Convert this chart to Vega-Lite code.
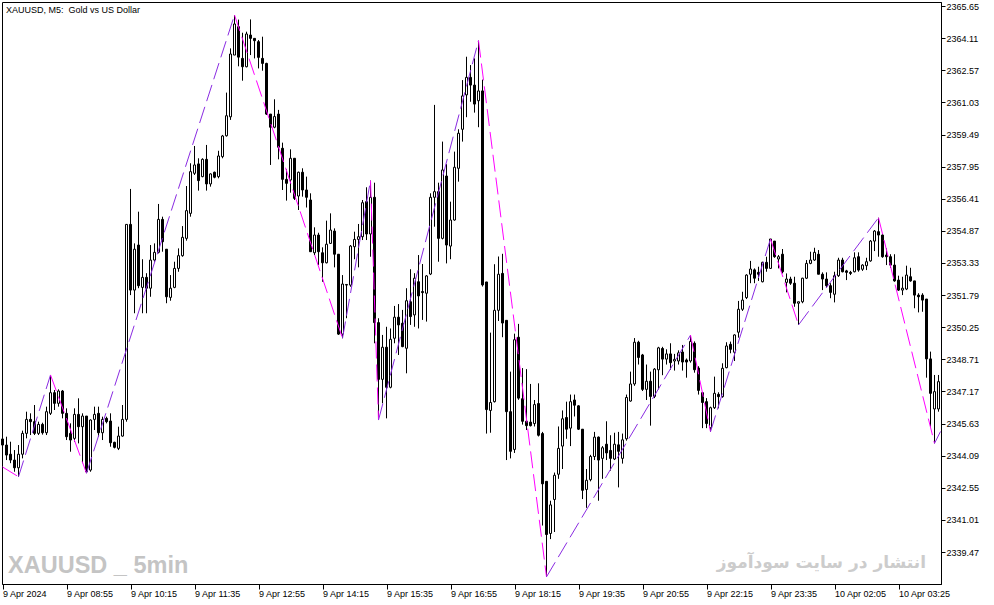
{
"$schema": "https://vega.github.io/schema/vega-lite/v6.json",
"width": 939, "height": 582,
"autosize": {"type": "none"},
"padding": {"left": 2, "top": 2, "right": 53, "bottom": 21},
"background": "white",
"config": {"view": {"stroke": "black", "strokeWidth": 1}},
"datasets": {
"candles": [
{"i":0,"o":2344.89,"h":2344.99,"l":2344.51,"c":2344.60},
{"i":1,"o":2344.60,"h":2345.00,"l":2343.88,"c":2344.12},
{"i":2,"o":2344.16,"h":2344.76,"l":2343.73,"c":2343.88},
{"i":3,"o":2343.88,"h":2344.36,"l":2343.32,"c":2343.51},
{"i":4,"o":2343.51,"h":2344.60,"l":2343.08,"c":2344.16},
{"i":5,"o":2344.16,"h":2345.29,"l":2343.96,"c":2345.16},
{"i":6,"o":2345.16,"h":2346.20,"l":2344.92,"c":2345.83},
{"i":7,"o":2345.83,"h":2346.12,"l":2345.08,"c":2345.72},
{"i":8,"o":2345.72,"h":2346.52,"l":2345.08,"c":2345.16},
{"i":9,"o":2345.16,"h":2345.72,"l":2345.08,"c":2345.59},
{"i":10,"o":2345.59,"h":2345.67,"l":2345.10,"c":2345.19},
{"i":11,"o":2345.19,"h":2346.44,"l":2345.08,"c":2346.20},
{"i":12,"o":2346.12,"h":2347.96,"l":2346.04,"c":2347.11},
{"i":13,"o":2347.11,"h":2347.24,"l":2346.28,"c":2346.60},
{"i":14,"o":2346.60,"h":2347.27,"l":2346.44,"c":2347.19},
{"i":15,"o":2347.19,"h":2347.24,"l":2345.88,"c":2346.12},
{"i":16,"o":2346.12,"h":2346.36,"l":2344.84,"c":2345.00},
{"i":17,"o":2345.16,"h":2345.64,"l":2344.28,"c":2344.84},
{"i":18,"o":2344.92,"h":2346.36,"l":2344.76,"c":2346.07},
{"i":19,"o":2346.07,"h":2346.84,"l":2344.68,"c":2345.48},
{"i":20,"o":2345.48,"h":2346.12,"l":2343.73,"c":2345.99},
{"i":21,"o":2345.99,"h":2345.99,"l":2343.25,"c":2343.32},
{"i":22,"o":2343.40,"h":2345.83,"l":2343.32,"c":2345.80},
{"i":23,"o":2345.83,"h":2346.44,"l":2345.32,"c":2346.07},
{"i":24,"o":2346.12,"h":2346.44,"l":2345.00,"c":2345.19},
{"i":25,"o":2345.19,"h":2345.96,"l":2344.84,"c":2345.83},
{"i":26,"o":2345.88,"h":2345.96,"l":2345.64,"c":2345.72},
{"i":27,"o":2345.75,"h":2346.12,"l":2344.52,"c":2344.71},
{"i":28,"o":2344.73,"h":2344.76,"l":2344.44,"c":2344.49},
{"i":29,"o":2344.44,"h":2345.48,"l":2344.36,"c":2345.03},
{"i":30,"o":2345.03,"h":2346.52,"l":2345.00,"c":2345.83},
{"i":31,"o":2345.83,"h":2355.18,"l":2345.72,"c":2355.18},
{"i":32,"o":2355.18,"h":2356.88,"l":2351.79,"c":2352.03},
{"i":33,"o":2352.03,"h":2354.27,"l":2350.92,"c":2353.99},
{"i":34,"o":2354.19,"h":2355.79,"l":2352.12,"c":2352.24},
{"i":35,"o":2352.16,"h":2353.51,"l":2350.92,"c":2352.64},
{"i":36,"o":2352.64,"h":2352.84,"l":2350.92,"c":2352.12},
{"i":37,"o":2352.12,"h":2354.19,"l":2351.71,"c":2353.47},
{"i":38,"o":2353.47,"h":2354.27,"l":2353.39,"c":2353.84},
{"i":39,"o":2353.84,"h":2356.16,"l":2353.79,"c":2355.42},
{"i":40,"o":2355.42,"h":2355.55,"l":2353.87,"c":2354.35},
{"i":41,"o":2353.99,"h":2353.99,"l":2351.40,"c":2351.71},
{"i":42,"o":2351.68,"h":2352.75,"l":2351.52,"c":2352.12},
{"i":43,"o":2352.16,"h":2353.39,"l":2352.12,"c":2353.07},
{"i":44,"o":2353.07,"h":2354.03,"l":2352.91,"c":2353.68},
{"i":45,"o":2353.68,"h":2355.10,"l":2353.63,"c":2354.56},
{"i":46,"o":2354.51,"h":2357.02,"l":2354.40,"c":2355.84},
{"i":47,"o":2355.71,"h":2358.11,"l":2355.55,"c":2357.71},
{"i":48,"o":2357.63,"h":2358.94,"l":2357.55,"c":2358.03},
{"i":49,"o":2358.08,"h":2358.35,"l":2356.80,"c":2357.28},
{"i":50,"o":2357.47,"h":2358.35,"l":2357.44,"c":2358.30},
{"i":51,"o":2358.30,"h":2358.99,"l":2356.80,"c":2357.12},
{"i":52,"o":2357.12,"h":2357.63,"l":2356.99,"c":2357.60},
{"i":53,"o":2357.68,"h":2357.71,"l":2357.39,"c":2357.44},
{"i":54,"o":2357.47,"h":2358.71,"l":2357.39,"c":2358.46},
{"i":55,"o":2358.43,"h":2359.47,"l":2358.35,"c":2359.42},
{"i":56,"o":2359.43,"h":2361.50,"l":2359.39,"c":2360.39},
{"i":57,"o":2360.34,"h":2363.62,"l":2360.19,"c":2363.35},
{"i":58,"o":2363.30,"h":2365.22,"l":2363.30,"c":2364.79},
{"i":59,"o":2364.66,"h":2365.00,"l":2362.76,"c":2363.20},
{"i":60,"o":2363.14,"h":2364.37,"l":2362.07,"c":2362.74},
{"i":61,"o":2362.74,"h":2364.42,"l":2362.71,"c":2364.31},
{"i":62,"o":2364.26,"h":2365.01,"l":2363.30,"c":2364.10},
{"i":63,"o":2364.10,"h":2364.10,"l":2363.14,"c":2363.99},
{"i":64,"o":2363.94,"h":2364.02,"l":2362.66,"c":2363.19},
{"i":65,"o":2363.14,"h":2364.18,"l":2362.55,"c":2362.90},
{"i":66,"o":2362.90,"h":2362.93,"l":2360.43,"c":2360.47},
{"i":67,"o":2360.47,"h":2360.47,"l":2358.03,"c":2359.84},
{"i":68,"o":2359.84,"h":2361.18,"l":2359.79,"c":2360.35},
{"i":69,"o":2360.47,"h":2360.67,"l":2358.30,"c":2358.88},
{"i":70,"o":2358.83,"h":2359.10,"l":2356.83,"c":2357.34},
{"i":71,"o":2357.34,"h":2357.82,"l":2356.32,"c":2357.15},
{"i":72,"o":2357.31,"h":2358.78,"l":2356.70,"c":2358.35},
{"i":73,"o":2358.35,"h":2358.35,"l":2356.35,"c":2356.43},
{"i":74,"o":2356.54,"h":2357.71,"l":2355.87,"c":2357.68},
{"i":75,"o":2357.68,"h":2357.87,"l":2356.51,"c":2356.83},
{"i":76,"o":2356.83,"h":2357.47,"l":2355.99,"c":2356.48},
{"i":77,"o":2356.35,"h":2356.67,"l":2353.87,"c":2353.87},
{"i":78,"o":2353.82,"h":2355.04,"l":2353.71,"c":2354.67},
{"i":79,"o":2354.67,"h":2354.78,"l":2353.23,"c":2353.87},
{"i":80,"o":2353.82,"h":2354.08,"l":2352.43,"c":2353.34},
{"i":81,"o":2353.34,"h":2355.36,"l":2353.31,"c":2354.23},
{"i":82,"o":2354.27,"h":2355.71,"l":2354.24,"c":2354.91},
{"i":83,"o":2354.86,"h":2354.99,"l":2353.12,"c":2353.75},
{"i":84,"o":2353.75,"h":2353.75,"l":2349.88,"c":2349.92},
{"i":85,"o":2349.92,"h":2352.75,"l":2349.72,"c":2352.32},
{"i":86,"o":2352.27,"h":2352.32,"l":2350.68,"c":2352.30},
{"i":87,"o":2352.27,"h":2354.19,"l":2352.19,"c":2354.14},
{"i":88,"o":2354.11,"h":2354.83,"l":2353.51,"c":2354.46},
{"i":89,"o":2354.46,"h":2355.20,"l":2353.12,"c":2354.59},
{"i":90,"o":2354.59,"h":2356.35,"l":2354.43,"c":2356.22},
{"i":91,"o":2356.27,"h":2356.96,"l":2354.43,"c":2354.72},
{"i":92,"o":2354.72,"h":2357.28,"l":2353.63,"c":2356.48},
{"i":93,"o":2356.48,"h":2357.18,"l":2349.48,"c":2350.47},
{"i":94,"o":2350.47,"h":2350.68,"l":2345.80,"c":2347.75},
{"i":95,"o":2347.75,"h":2349.88,"l":2346.60,"c":2349.29},
{"i":96,"o":2349.29,"h":2350.27,"l":2345.88,"c":2347.37},
{"i":97,"o":2347.37,"h":2350.19,"l":2347.32,"c":2349.67},
{"i":98,"o":2349.72,"h":2351.27,"l":2349.48,"c":2350.73},
{"i":99,"o":2350.73,"h":2351.36,"l":2348.92,"c":2350.36},
{"i":100,"o":2350.44,"h":2351.08,"l":2349.29,"c":2349.32},
{"i":101,"o":2349.24,"h":2352.12,"l":2348.04,"c":2351.52},
{"i":102,"o":2351.47,"h":2353.03,"l":2350.36,"c":2350.76},
{"i":103,"o":2350.84,"h":2352.84,"l":2350.27,"c":2352.60},
{"i":104,"o":2352.43,"h":2353.71,"l":2350.19,"c":2351.75},
{"i":105,"o":2351.96,"h":2353.28,"l":2350.60,"c":2351.91},
{"i":106,"o":2351.88,"h":2352.75,"l":2350.52,"c":2352.71},
{"i":107,"o":2352.80,"h":2356.67,"l":2352.75,"c":2356.48},
{"i":108,"o":2356.48,"h":2360.91,"l":2355.07,"c":2356.75},
{"i":109,"o":2356.75,"h":2357.18,"l":2353.39,"c":2354.51},
{"i":110,"o":2354.51,"h":2359.15,"l":2354.46,"c":2357.79},
{"i":111,"o":2357.50,"h":2358.07,"l":2353.31,"c":2354.19},
{"i":112,"o":2354.14,"h":2356.27,"l":2353.51,"c":2355.39},
{"i":113,"o":2355.39,"h":2358.67,"l":2355.36,"c":2357.92},
{"i":114,"o":2357.87,"h":2359.74,"l":2357.23,"c":2359.55},
{"i":115,"o":2359.74,"h":2362.10,"l":2359.15,"c":2361.34},
{"i":116,"o":2361.39,"h":2363.22,"l":2360.32,"c":2362.23},
{"i":117,"o":2362.23,"h":2362.82,"l":2361.06,"c":2361.86},
{"i":118,"o":2361.86,"h":2363.14,"l":2360.54,"c":2360.95},
{"i":119,"o":2361.11,"h":2363.99,"l":2359.84,"c":2361.58},
{"i":120,"o":2361.58,"h":2362.12,"l":2352.20,"c":2352.28},
{"i":121,"o":2352.42,"h":2352.42,"l":2345.15,"c":2346.30},
{"i":122,"o":2346.26,"h":2349.99,"l":2345.19,"c":2346.64},
{"i":123,"o":2346.68,"h":2353.27,"l":2346.64,"c":2351.06},
{"i":124,"o":2351.06,"h":2353.64,"l":2350.55,"c":2352.79},
{"i":125,"o":2352.83,"h":2353.77,"l":2349.77,"c":2350.45},
{"i":126,"o":2350.58,"h":2350.58,"l":2343.88,"c":2346.20},
{"i":127,"o":2346.20,"h":2348.12,"l":2343.96,"c":2344.30},
{"i":128,"o":2344.39,"h":2349.94,"l":2344.22,"c":2349.65},
{"i":129,"o":2349.77,"h":2350.41,"l":2346.77,"c":2346.85},
{"i":130,"o":2346.82,"h":2348.29,"l":2345.58,"c":2345.74},
{"i":131,"o":2345.74,"h":2348.24,"l":2345.32,"c":2345.53},
{"i":132,"o":2345.70,"h":2347.53,"l":2345.49,"c":2345.53},
{"i":133,"o":2345.63,"h":2346.76,"l":2345.49,"c":2346.54},
{"i":134,"o":2346.59,"h":2347.56,"l":2345.01,"c":2345.07},
{"i":135,"o":2345.15,"h":2345.23,"l":2340.74,"c":2342.74},
{"i":136,"o":2342.86,"h":2342.86,"l":2338.28,"c":2340.31},
{"i":137,"o":2340.36,"h":2341.93,"l":2340.09,"c":2341.73},
{"i":138,"o":2341.99,"h":2343.28,"l":2340.43,"c":2343.15},
{"i":139,"o":2343.20,"h":2345.49,"l":2342.98,"c":2344.44},
{"i":140,"o":2344.55,"h":2346.26,"l":2343.45,"c":2345.86},
{"i":141,"o":2345.92,"h":2346.68,"l":2344.90,"c":2345.36},
{"i":142,"o":2345.41,"h":2347.02,"l":2344.55,"c":2346.68},
{"i":143,"o":2346.76,"h":2347.02,"l":2345.97,"c":2346.51},
{"i":144,"o":2346.48,"h":2346.51,"l":2345.32,"c":2345.36},
{"i":145,"o":2345.36,"h":2345.36,"l":2342.01,"c":2342.43},
{"i":146,"o":2342.47,"h":2343.45,"l":2341.59,"c":2342.91},
{"i":147,"o":2342.94,"h":2344.13,"l":2342.86,"c":2344.05},
{"i":148,"o":2344.05,"h":2345.23,"l":2343.88,"c":2344.98},
{"i":149,"o":2344.98,"h":2345.01,"l":2341.93,"c":2343.88},
{"i":150,"o":2343.96,"h":2344.55,"l":2342.98,"c":2344.47},
{"i":151,"o":2344.64,"h":2345.74,"l":2343.88,"c":2344.22},
{"i":152,"o":2344.34,"h":2345.07,"l":2343.37,"c":2343.96},
{"i":153,"o":2343.93,"h":2345.19,"l":2343.88,"c":2344.64},
{"i":154,"o":2344.61,"h":2345.23,"l":2342.57,"c":2344.30},
{"i":155,"o":2343.96,"h":2345.15,"l":2343.71,"c":2344.85},
{"i":156,"o":2344.90,"h":2347.02,"l":2344.81,"c":2346.88},
{"i":157,"o":2346.71,"h":2348.12,"l":2346.68,"c":2347.53},
{"i":158,"o":2347.53,"h":2349.73,"l":2347.44,"c":2349.53},
{"i":159,"o":2349.53,"h":2349.60,"l":2348.46,"c":2348.80},
{"i":160,"o":2348.92,"h":2348.97,"l":2347.19,"c":2347.27},
{"i":161,"o":2347.27,"h":2348.46,"l":2346.76,"c":2347.66},
{"i":162,"o":2347.66,"h":2348.12,"l":2345.53,"c":2346.93},
{"i":163,"o":2346.93,"h":2348.29,"l":2346.85,"c":2348.24},
{"i":164,"o":2348.21,"h":2349.31,"l":2347.27,"c":2349.26},
{"i":165,"o":2349.23,"h":2349.31,"l":2347.95,"c":2348.72},
{"i":166,"o":2348.72,"h":2349.19,"l":2348.46,"c":2348.97},
{"i":167,"o":2348.97,"h":2349.48,"l":2348.21,"c":2348.55},
{"i":168,"o":2348.63,"h":2348.97,"l":2348.17,"c":2348.71},
{"i":169,"o":2348.63,"h":2349.14,"l":2348.46,"c":2349.02},
{"i":170,"o":2349.06,"h":2349.40,"l":2348.17,"c":2348.58},
{"i":171,"o":2348.68,"h":2348.75,"l":2347.83,"c":2348.58},
{"i":172,"o":2348.63,"h":2349.87,"l":2348.55,"c":2349.57},
{"i":173,"o":2349.48,"h":2349.57,"l":2348.07,"c":2348.21},
{"i":174,"o":2348.29,"h":2348.38,"l":2347.02,"c":2347.22},
{"i":175,"o":2347.11,"h":2347.11,"l":2345.41,"c":2346.64},
{"i":176,"o":2346.68,"h":2346.85,"l":2345.41,"c":2345.63},
{"i":177,"o":2345.43,"h":2346.44,"l":2345.24,"c":2346.39},
{"i":178,"o":2346.39,"h":2347.88,"l":2346.33,"c":2347.08},
{"i":179,"o":2347.03,"h":2347.13,"l":2346.36,"c":2346.92},
{"i":180,"o":2346.92,"h":2348.52,"l":2346.87,"c":2348.28},
{"i":181,"o":2348.31,"h":2349.53,"l":2348.28,"c":2349.35},
{"i":182,"o":2349.43,"h":2349.56,"l":2349.00,"c":2349.19},
{"i":183,"o":2349.05,"h":2349.91,"l":2348.63,"c":2349.88},
{"i":184,"o":2350.01,"h":2351.51,"l":2349.75,"c":2351.11},
{"i":185,"o":2351.11,"h":2351.95,"l":2351.03,"c":2351.55},
{"i":186,"o":2351.67,"h":2352.79,"l":2351.60,"c":2352.75},
{"i":187,"o":2352.79,"h":2353.43,"l":2352.36,"c":2353.04},
{"i":188,"o":2353.00,"h":2353.07,"l":2352.36,"c":2352.60},
{"i":189,"o":2352.88,"h":2353.15,"l":2352.47,"c":2352.79},
{"i":190,"o":2352.43,"h":2353.39,"l":2352.40,"c":2353.36},
{"i":191,"o":2353.36,"h":2353.63,"l":2352.91,"c":2353.07},
{"i":192,"o":2353.07,"h":2354.48,"l":2353.04,"c":2354.48},
{"i":193,"o":2354.38,"h":2354.38,"l":2353.58,"c":2353.63},
{"i":194,"o":2353.52,"h":2353.71,"l":2353.07,"c":2353.63},
{"i":195,"o":2353.75,"h":2354.00,"l":2352.83,"c":2352.91},
{"i":196,"o":2352.40,"h":2352.83,"l":2351.92,"c":2352.56},
{"i":197,"o":2352.56,"h":2352.67,"l":2352.28,"c":2352.36},
{"i":198,"o":2352.36,"h":2352.67,"l":2351.23,"c":2351.40},
{"i":199,"o":2351.40,"h":2351.47,"l":2350.36,"c":2351.47},
{"i":200,"o":2351.47,"h":2352.62,"l":2351.40,"c":2352.60},
{"i":201,"o":2352.60,"h":2353.47,"l":2352.56,"c":2353.31},
{"i":202,"o":2353.31,"h":2353.87,"l":2353.27,"c":2353.47},
{"i":203,"o":2353.47,"h":2354.06,"l":2353.43,"c":2353.84},
{"i":204,"o":2353.75,"h":2353.95,"l":2352.79,"c":2352.79},
{"i":205,"o":2352.79,"h":2352.88,"l":2352.03,"c":2352.56},
{"i":206,"o":2352.56,"h":2352.88,"l":2352.15,"c":2352.24},
{"i":207,"o":2352.24,"h":2352.36,"l":2351.64,"c":2351.92},
{"i":208,"o":2351.83,"h":2352.91,"l":2351.44,"c":2352.72},
{"i":209,"o":2352.72,"h":2353.58,"l":2352.66,"c":2353.47},
{"i":210,"o":2353.47,"h":2353.58,"l":2352.88,"c":2352.91},
{"i":211,"o":2352.95,"h":2353.00,"l":2352.51,"c":2352.88},
{"i":212,"o":2352.88,"h":2352.95,"l":2352.75,"c":2352.83},
{"i":213,"o":2352.91,"h":2353.84,"l":2352.88,"c":2353.58},
{"i":214,"o":2353.63,"h":2353.84,"l":2352.91,"c":2352.99},
{"i":215,"o":2353.03,"h":2353.27,"l":2352.95,"c":2353.23},
{"i":216,"o":2353.20,"h":2353.58,"l":2352.99,"c":2353.39},
{"i":217,"o":2353.43,"h":2354.43,"l":2353.39,"c":2354.38},
{"i":218,"o":2354.38,"h":2354.91,"l":2353.90,"c":2354.86},
{"i":219,"o":2354.83,"h":2355.50,"l":2353.63,"c":2354.67},
{"i":220,"o":2354.67,"h":2354.70,"l":2353.58,"c":2353.63},
{"i":221,"o":2353.71,"h":2354.03,"l":2353.23,"c":2353.63},
{"i":222,"o":2353.63,"h":2353.75,"l":2353.10,"c":2353.23},
{"i":223,"o":2353.23,"h":2353.75,"l":2352.43,"c":2352.47},
{"i":224,"o":2352.51,"h":2352.72,"l":2351.99,"c":2352.03},
{"i":225,"o":2352.03,"h":2352.67,"l":2351.79,"c":2352.12},
{"i":226,"o":2352.08,"h":2353.20,"l":2352.03,"c":2352.75},
{"i":227,"o":2352.67,"h":2353.10,"l":2352.43,"c":2352.47},
{"i":228,"o":2352.47,"h":2352.47,"l":2351.16,"c":2351.79},
{"i":229,"o":2351.79,"h":2351.88,"l":2350.96,"c":2351.71},
{"i":230,"o":2351.79,"h":2351.88,"l":2350.99,"c":2351.55},
{"i":231,"o":2351.60,"h":2351.60,"l":2347.83,"c":2348.73},
{"i":232,"o":2348.73,"h":2349.08,"l":2345.48,"c":2347.08},
{"i":233,"o":2346.33,"h":2347.96,"l":2344.68,"c":2347.16},
{"i":234,"o":2346.33,"h":2347.96,"l":2346.20,"c":2347.64}
],
"zigzag": [
{"seg":1,"dir":"down","i":0,"p":2343.55},{"seg":1,"dir":"down","i":4,"p":2343.08},
{"seg":2,"dir":"up","i":4,"p":2343.08},{"seg":2,"dir":"up","i":12,"p":2347.96},
{"seg":3,"dir":"down","i":12,"p":2347.96},{"seg":3,"dir":"down","i":21,"p":2343.25},
{"seg":4,"dir":"up","i":21,"p":2343.25},{"seg":4,"dir":"up","i":58,"p":2365.22},
{"seg":5,"dir":"down","i":58,"p":2365.22},{"seg":5,"dir":"down","i":85,"p":2349.72},
{"seg":6,"dir":"up","i":85,"p":2349.72},{"seg":6,"dir":"up","i":92,"p":2357.28},
{"seg":7,"dir":"down","i":92,"p":2357.28},{"seg":7,"dir":"down","i":94,"p":2345.80},
{"seg":8,"dir":"up","i":94,"p":2345.80},{"seg":8,"dir":"up","i":119,"p":2363.99},
{"seg":9,"dir":"down","i":119,"p":2363.99},{"seg":9,"dir":"down","i":136,"p":2338.28},
{"seg":10,"dir":"up","i":136,"p":2338.28},{"seg":10,"dir":"up","i":172,"p":2349.87},
{"seg":11,"dir":"down","i":172,"p":2349.87},{"seg":11,"dir":"down","i":177,"p":2345.24},
{"seg":12,"dir":"up","i":177,"p":2345.24},{"seg":12,"dir":"up","i":192,"p":2354.48},
{"seg":13,"dir":"down","i":192,"p":2354.48},{"seg":13,"dir":"down","i":199,"p":2350.36},
{"seg":14,"dir":"up","i":199,"p":2350.36},{"seg":14,"dir":"up","i":219,"p":2355.50},
{"seg":15,"dir":"down","i":219,"p":2355.50},{"seg":15,"dir":"down","i":233,"p":2344.68},
{"seg":16,"dir":"up","i":233,"p":2344.68},{"seg":16,"dir":"up","i":234.5,"p":2345.25}
]
},
"layer": [
{
"data": {"values": [{}]},
"mark": {"type": "text", "text": "XAUUSD, M5:\u00a0 Gold vs US Dollar", "align": "left", "baseline": "alphabetic", "font": "Liberation Sans", "fontSize": 9, "color": "black"},
"encoding": {"x": {"datum": 0.875, "type": "quantitative"}, "y": {"datum": 2365.32, "type": "quantitative"}}
},
{
"data": {"values": [{}]},
"mark": {"type": "text", "text": "XAUUSD _ 5min", "align": "left", "baseline": "alphabetic", "font": "Liberation Sans", "fontSize": 23.5, "fontWeight": "bold", "color": "#C4C4C4"},
"encoding": {"x": {"datum": 1.4, "type": "quantitative"}, "y": {"datum": 2338.47, "type": "quantitative"}}
},
{
"data": {"values": [{}]},
"mark": {"type": "text", "text": "انتشار در سایت سودآموز", "align": "right", "baseline": "alphabetic", "font": "DejaVu Sans", "fontSize": 17, "fontWeight": "bold", "color": "#CCCCCC"},
"encoding": {"x": {"datum": 230.875, "type": "quantitative"}, "y": {"datum": 2338.69, "type": "quantitative"}}
},
{
"data": {"name": "candles"},
"mark": {"type": "rule", "color": "black", "strokeWidth": 1},
"encoding": {
"x": {"field": "i", "type": "quantitative", "scale": {"domain": [-0.125, 234.625], "nice": false, "zero": false, "padding": 0},
"axis": {"orient": "bottom", "values": [0,16,32,48,64,80,96,112,128,144,160,176,192,208,224], "tickCount": 40,
"labelExpr": "['9 Apr 2024','9 Apr 08:55','9 Apr 10:15','9 Apr 11:35','9 Apr 12:55','9 Apr 14:15','9 Apr 15:35','9 Apr 16:55','9 Apr 18:15','9 Apr 19:35','9 Apr 20:55','9 Apr 22:15','9 Apr 23:35','10 Apr 02:05','10 Apr 03:25'][round(datum.value/16)]",
"grid": false, "title": null, "domainColor": "black", "tickColor": "black", "tickSize": 5, "labelAlign": "left", "labelPadding": 0, "labelFont": "Liberation Sans", "labelFontSize": 9, "labelColor": "black", "labelFlush": false, "labelOverlap": false, "labelBound": false}},
"y": {"field": "l", "type": "quantitative", "scale": {"domain": [2337.937, 2365.844], "nice": false, "zero": false, "padding": 0},
"axis": {"orient": "right", "values": [2339.47,2341.01,2342.55,2344.09,2345.63,2347.17,2348.71,2350.25,2351.79,2353.33,2354.87,2356.41,2357.95,2359.49,2361.03,2362.57,2364.11,2365.65], "tickCount": 40,
"format": ".2f", "grid": false, "title": null, "domainColor": "black", "tickColor": "black", "tickSize": 4, "labelPadding": 1, "labelAlign": "left", "labelBaseline": "middle", "labelFont": "Liberation Sans", "labelFontSize": 9, "labelColor": "black", "labelOverlap": false, "labelFlush": false}},
"y2": {"field": "h"}
}
},
{
"data": {"name": "candles"},
"mark": {"type": "bar", "size": 2, "stroke": "black", "strokeWidth": 1},
"encoding": {
"x": {"field": "i", "type": "quantitative"},
"y": {"field": "o", "type": "quantitative"},
"y2": {"field": "c"},
"fill": {"condition": {"test": "datum.c >= datum.o", "value": "white"}, "value": "black"}
}
},
{
"data": {"name": "zigzag"},
"mark": {"type": "line", "strokeDash": [17, 6], "strokeWidth": 1, "clip": true},
"encoding": {
"x": {"field": "i", "type": "quantitative"},
"y": {"field": "p", "type": "quantitative"},
"detail": {"field": "seg", "type": "nominal"},
"order": {"field": "i", "type": "quantitative"},
"color": {"field": "dir", "type": "nominal", "scale": {"domain": ["down", "up"], "range": ["#FF00FF", "#8A2BE2"]}, "legend": null}
}
}
]
}
